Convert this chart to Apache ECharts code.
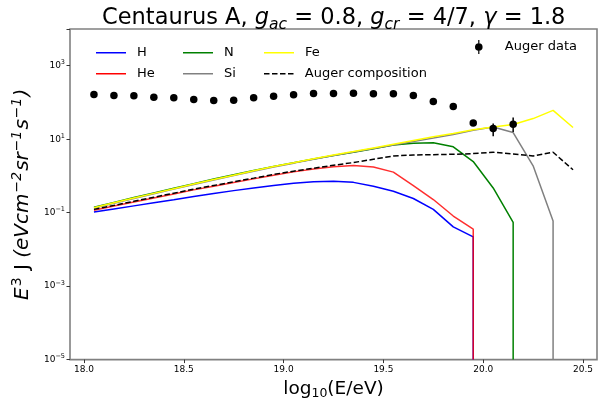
<!DOCTYPE html>
<html>
<head>
<meta charset="utf-8">
<script src="https://cdn.jsdelivr.net/npm/echarts@6/dist/echarts.min.js"></script>
<style>
  html, body { margin: 0; padding: 0; background: #fff; }
  #chart { width: 614px; height: 405px; }
</style>
</head>
<body>
<div id="chart"></div>
<script>
// bin centres, log10(E/eV)
const energies = [18.05, 18.15, 18.25, 18.35, 18.45, 18.55, 18.65, 18.75, 18.85, 18.95,
  19.05, 19.15, 19.25, 19.35, 19.45, 19.55, 19.65, 19.75, 19.85, 19.95,
  20.05, 20.15, 20.25, 20.35, 20.45];

// E^3 J per species (null = zero flux)
const hFlux = [0.104, 0.126, 0.153, 0.186, 0.226, 0.275, 0.331, 0.398, 0.468, 0.550,
  0.631, 0.692, 0.716, 0.668, 0.521, 0.382, 0.243, 0.123, 0.041, 0.022,
  null, null, null, null, null];
const heFlux = [0.117, 0.151, 0.195, 0.251, 0.324, 0.417, 0.525, 0.661, 0.832, 1.05,
  1.29, 1.55, 1.78, 1.92, 1.74, 1.27, 0.545, 0.228, 0.081, 0.0355,
  null, null, null, null, null];
const nFlux = [0.140, 0.190, 0.258, 0.345, 0.463, 0.617, 0.82, 1.07, 1.40, 1.82,
  2.30, 2.90, 3.60, 4.40, 5.5, 7.0, 7.7, 8.0, 6.2, 2.46,
  0.47, 0.054, null, null, null];
const siFlux = [0.134, 0.181, 0.244, 0.326, 0.437, 0.583, 0.776, 1.02, 1.34, 1.75,
  2.23, 2.86, 3.59, 4.46, 5.6, 7.0, 8.7, 10.8, 13.5, 17.5,
  21.4, 15.2, 1.88, 0.059, null];
const feFlux = [0.136, 0.185, 0.25, 0.335, 0.45, 0.60, 0.80, 1.05, 1.38, 1.80,
  2.30, 2.95, 3.70, 4.60, 5.8, 7.3, 9.2, 11.6, 14.3, 18.2,
  21.6, 25.1, 36.4, 60.8, 20.8];
const compFlux = [0.123, 0.158, 0.204, 0.263, 0.339, 0.437, 0.550, 0.692, 0.871, 1.10,
  1.35, 1.62, 1.95, 2.31, 2.85, 3.50, 3.72, 3.80, 3.89, 4.05,
  4.41, 3.98, 3.50, 4.41, 1.47];

// Auger points (first 22 bins) and error bars
const augerFlux = [164, 155, 152, 139, 134, 120, 113, 115, 134, 148,
  161, 175, 175, 178, 172, 172, 155, 106, 78, 27.7,
  19.5, 25.5];
const augerLow = [null, null, null, null, null, null, null, null, null, null,
  null, null, null, null, null, null, null, null, null, 25,
  12.1, 15.8];
const augerHigh = [null, null, null, null, null, null, null, null, null, null,
  null, null, null, null, null, null, null, null, null, 31,
  26.7, 38.7];

const yMin = 1e-5, yMax = 1e4;
const font = 'DejaVu Sans';

// pairs for a line; a species that goes to zero drops to the bottom edge
function toLine(vals) {
  const out = [];
  let lastX = null;
  vals.forEach(function (v, i) {
    if (v != null) { out.push([energies[i], v]); lastX = energies[i]; }
  });
  if (vals[vals.length - 1] == null && lastX != null) out.push([lastX, yMin]);
  return out;
}

function species(name, vals, color, extra) {
  return Object.assign({
    name: name,
    type: 'line',
    data: toLine(vals),
    symbol: 'none',
    lineStyle: { color: color, width: 1.5 },
    itemStyle: { color: color },
    z: 2
  }, extra || {});
}

const solidIcon = 'path://M0,0 H30 V1.5 H0 Z';
const dashIcon = 'path://M0,0 H5.5 V1.5 H0 Z M8,0 H13.5 V1.5 H8 Z M16,0 H21.5 V1.5 H16 Z M24,0 H29.5 V1.5 H24 Z';

function legendAt(name, left, rowY, extra) {
  return Object.assign({
    data: [name],
    left: left,
    top: rowY - 0.75,
    padding: 0,
    icon: solidIcon,
    itemWidth: 30,
    itemHeight: 1.5,
    selectedMode: false,
    textStyle: { fontFamily: font, fontSize: 13, color: '#000', padding: [0, 0, 0, 6] }
  }, extra || {});
}

const chart = echarts.init(document.getElementById('chart'));

chart.setOption({
  animation: false,
  backgroundColor: '#fff',
  title: {
    text: '{n|Centaurus A, }{i|g}{s|ac}{n| = 0.8, }{i|g}{s|cr}{n| = 4/7, }{i|γ}{n| = 1.8}',
    left: 97,
    top: -1,
    textStyle: {
      fontFamily: font,
      fontWeight: 'normal',
      rich: {
        n: { fontFamily: font, fontSize: 22.5, color: '#000' },
        i: { fontFamily: font, fontSize: 22.5, fontStyle: 'italic', color: '#000' },
        s: { fontFamily: font, fontSize: 15.5, fontStyle: 'italic', color: '#000', padding: [13, 0, 0, 0] }
      }
    }
  },
  grid: {
    left: 70, right: 17, top: 29, bottom: 43,
    show: true, borderColor: '#808080', borderWidth: 1.6
  },
  legend: [
    legendAt('H', 96, 47),
    legendAt('N', 183, 47),
    legendAt('Fe', 264, 47),
    legendAt('He', 96, 68),
    legendAt('Si', 183, 68),
    legendAt('Auger composition', 264, 68, { icon: dashIcon }),
    {
      data: ['Auger data'],
      left: 475,
      top: 40,
      padding: 0,
      itemWidth: 8,
      itemHeight: 14,
      selectedMode: false,
      icon: 'path://M3.4,0 H4.6 V14 H3.4 Z M4,3.2 A3.8,3.8 0 1 1 3.99,3.2 Z',
      itemStyle: { color: '#000', opacity: 1 },
      textStyle: { fontFamily: font, fontSize: 13, color: '#000', padding: [0, 0, 0, 17] }
    }
  ],
  xAxis: {
    type: 'value',
    min: 17.93,
    max: 20.57,
    name: '{n|log}{s|10}{n|(E/eV)}',
    nameLocation: 'middle',
    nameGap: 14,
    nameTextStyle: {
      rich: {
        n: { fontFamily: font, fontSize: 18.5, color: '#000' },
        s: { fontFamily: font, fontSize: 12.5, color: '#000', padding: [9, 0, 0, 0] }
      }
    },
    axisLine: { show: false },
    splitLine: { show: false },
    axisTick: { length: 3.5, lineStyle: { color: '#333', width: 1 } },
    axisLabel: {
      fontFamily: font, fontSize: 9, color: '#000', margin: 6,
      showMinLabel: false, showMaxLabel: false,
      formatter: function (v) {
        return Math.abs(v * 2 - Math.round(v * 2)) < 1e-6 ? v.toFixed(1) : '';
      }
    }
  },
  yAxis: {
    type: 'log',
    logBase: 10,
    min: yMin,
    max: yMax,
    interval: 2,
    name: '{i|E}{sup|3}{n| J }{i|(eVcm}{isup|−2}{i|sr}{isup|−1}{i|s}{isup|−1}{i|)}',
    nameLocation: 'middle',
    nameGap: 31,
    nameRotate: 90,
    nameTextStyle: {
      rich: {
        n: { fontFamily: font, fontSize: 20, color: '#000' },
        i: { fontFamily: font, fontSize: 20, fontStyle: 'italic', color: '#000' },
        sup: { fontFamily: font, fontSize: 14, color: '#000', padding: [0, 1, 11, 1] },
        isup: { fontFamily: font, fontSize: 14, fontStyle: 'italic', color: '#000', padding: [0, 1, 11, 1] }
      }
    },
    axisLine: { show: false },
    splitLine: { show: false },
    axisTick: { length: 3.5, lineStyle: { color: '#333', width: 1 } },
    axisLabel: {
      margin: 5,
      formatter: function (v) {
        const e = Math.round(Math.log10(v));
        if (e >= 4) return '';
        return '{b|10}{s|' + (e < 0 ? '−' : '') + Math.abs(e) + '}';
      },
      rich: {
        b: { fontFamily: font, fontSize: 9, color: '#000' },
        s: { fontFamily: font, fontSize: 6.5, color: '#000', padding: [0, 0, 6, 0] }
      }
    }
  },
  series: [
    species('H', hFlux, '#0000ff'),
    species('He', heFlux, '#ff0000', { lineStyle: { color: '#ff0000', width: 1.5, opacity: 0.82 } }),
    species('N', nFlux, '#008000'),
    species('Si', siFlux, '#808080'),
    species('Fe', feFlux, '#ffff00'),
    species('Auger composition', compFlux, '#000000', {
      lineStyle: { color: '#000', width: 1.5, type: [5.5, 2.5] }, z: 3
    }),
    {
      name: 'Auger data',
      type: 'scatter',
      data: augerFlux.map(function (v, i) { return [energies[i], v]; }),
      symbol: 'circle',
      symbolSize: 7.5,
      itemStyle: { color: '#000', opacity: 1 },
      z: 5
    },
    {
      name: 'Auger errors',
      type: 'custom',
      data: augerFlux.map(function (v, i) { return [energies[i], augerLow[i], augerHigh[i]]; })
        .filter(function (d) { return d[1] != null; }),
      encode: { x: 0, y: [1, 2] },
      renderItem: function (params, api) {
        const x = api.value(0);
        const lo = api.coord([x, api.value(1)]);
        const hi = api.coord([x, api.value(2)]);
        return {
          type: 'line',
          shape: { x1: lo[0], y1: lo[1], x2: hi[0], y2: hi[1] },
          style: { stroke: '#000', lineWidth: 1.5 }
        };
      },
      z: 5
    }
  ]
});
</script>
</body>
</html>
